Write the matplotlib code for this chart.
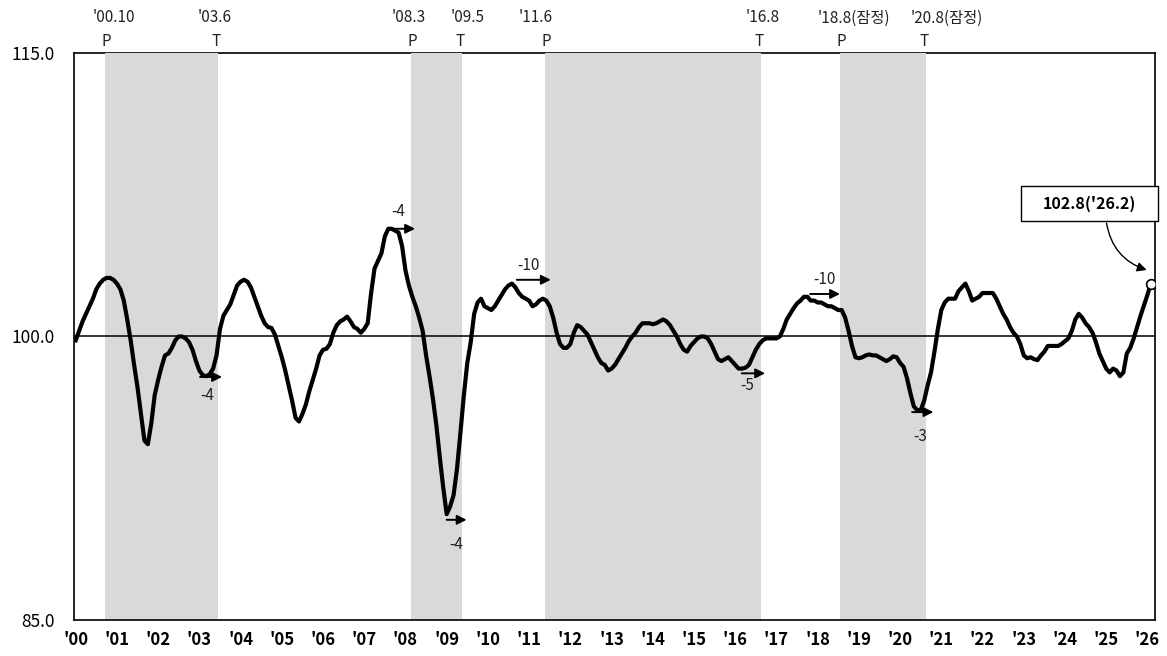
import matplotlib
matplotlib.use("Agg")
import matplotlib.pyplot as plt
from matplotlib.patches import Rectangle
import numpy as np

plt.rcParams["font.family"] = ["Noto Sans CJK KR", "DejaVu Sans"]

# 선행지수 순환변동치, 월별 ('00.1 ~ '26.2)
values = [
    99.8, 100.3, 100.8, 101.2, 101.6, 102.0, 102.5, 102.8, 103.0, 103.1, 103.1, 103.0,  # 2000
    102.8, 102.5, 101.9, 100.9, 99.8, 98.5, 97.3, 95.9, 94.5, 94.3, 95.4, 96.9,  # 2001
    97.7, 98.4, 99.0, 99.1, 99.4, 99.8, 100.0, 100.0, 99.9, 99.7, 99.3, 98.7,  # 2002
    98.2, 97.95, 97.9, 98.0, 98.3, 99.0, 100.4, 101.1, 101.4, 101.7, 102.2, 102.7,  # 2003
    102.9, 103.0, 102.9, 102.6, 102.1, 101.6, 101.1, 100.7, 100.5, 100.45, 100.1, 99.5,  # 2004
    98.9, 98.2, 97.4, 96.6, 95.7, 95.5, 95.9, 96.4, 97.1, 97.7, 98.3, 99.0,  # 2005
    99.3, 99.35, 99.6, 100.2, 100.6, 100.8, 100.9, 101.05, 100.8, 100.5, 100.4, 100.2,  # 2006
    100.4, 100.7, 102.3, 103.6, 104.0, 104.4, 105.3, 105.7, 105.7, 105.6, 105.5, 104.8,  # 2007
    103.5, 102.7, 102.1, 101.6, 101.0, 100.3, 99.0, 97.9, 96.7, 95.3, 93.6, 92.0,  # 2008
    90.6, 91.0, 91.6, 93.0, 94.9, 96.9, 98.6, 99.7, 101.2, 101.8, 102.0, 101.6,  # 2009
    101.5, 101.4, 101.6, 101.9, 102.2, 102.5, 102.7, 102.8, 102.6, 102.3, 102.1, 102.0,  # 2010
    101.9, 101.6, 101.7, 101.9, 102.0, 101.9, 101.6, 101.0, 100.2, 99.6, 99.4, 99.4,  # 2011
    99.6, 100.2, 100.6, 100.5, 100.3, 100.1, 99.7, 99.3, 98.9, 98.6, 98.5, 98.2,  # 2012
    98.3, 98.5, 98.8, 99.1, 99.4, 99.75, 100.0, 100.2, 100.5, 100.7, 100.7, 100.7,  # 2013
    100.65, 100.7, 100.8, 100.9, 100.8, 100.6, 100.3, 100.0, 99.6, 99.3, 99.2, 99.5,  # 2014
    99.7, 99.9, 100.0, 100.0, 99.9, 99.6, 99.2, 98.8, 98.7, 98.8, 98.9, 98.7,  # 2015
    98.5, 98.3, 98.3, 98.35, 98.5, 98.9, 99.3, 99.6, 99.8, 99.9, 99.9, 99.9,  # 2016
    99.9, 100.0, 100.4, 100.9, 101.2, 101.5, 101.75, 101.9, 102.1, 102.1, 101.9, 101.9,  # 2017
    101.8, 101.8, 101.7, 101.6, 101.6, 101.5, 101.4, 101.4, 101.0, 100.3, 99.5, 98.9,  # 2018
    98.85, 98.9, 99.0, 99.05, 99.0, 99.0, 98.9, 98.8, 98.7, 98.8, 98.95, 98.9,  # 2019
    98.6, 98.4, 97.8, 97.0, 96.3, 96.1, 96.1, 96.6, 97.4, 98.1, 99.2, 100.4,  # 2020
    101.4, 101.8, 102.0, 102.0, 102.0, 102.4, 102.6, 102.8, 102.4, 101.9, 102.0, 102.1,  # 2021
    102.3, 102.3, 102.3, 102.3, 102.0, 101.6, 101.2, 100.9, 100.5, 100.2, 100.0, 99.6,  # 2022
    99.0, 98.85, 98.9, 98.8, 98.75, 99.0, 99.2, 99.5, 99.5, 99.5, 99.5, 99.6,  # 2023
    99.75, 99.9, 100.3, 100.9, 101.2, 101.0, 100.7, 100.5, 100.2, 99.7, 99.1, 98.7,  # 2024
    98.3, 98.1, 98.3, 98.2, 97.9, 98.1, 99.1, 99.4, 99.9, 100.5, 101.1, 101.65,  # 2025
    102.2, 102.8,  # 2026
]

year_labels = ["'%02d" % y for y in range(0, 27)]

# 기준순환일 (월 인덱스: '00.1 = 0)
turn_labels = ["'00.10", "'03.6", "'08.3", "'09.5", "'11.6", "'16.8", "'18.8(잠정)", "'20.8(잠정)"]
turn_types = ["P", "T", "P", "T", "P", "T", "P", "T"]
turn_months = [9, 41, 98, 112, 137, 199, 223, 247]
label_shift = [2, -0.5, -1, 2, -3, 1, 3.5, 6.5]

# 선행 시차 화살표
lead_text = ["-4", "-4", "-4", "-10", "-5", "-10", "-3"]
lead_start = [36.2, 91.5, 108.0, 128.4, 193.9, 213.8, 243.5]
lead_end = [42.6, 98.8, 113.8, 138.3, 200.7, 222.5, 249.7]
lead_y = [97.86, 105.7, 90.3, 103.0, 98.05, 102.25, 96.0]
lead_text_x = [38.3, 93.9, 110.7, 131.8, 195.5, 218.1, 245.8]
lead_text_y = [96.9, 106.6, 89.0, 103.75, 97.4, 103.0, 94.7]

last_label = "102.8('26.2)"

x = np.arange(len(values))

fig = plt.figure(figsize=(11.67, 6.56), dpi=100)
ax = fig.add_axes([0.0634, 0.0549, 0.9263, 0.8643])

# 수축기 음영
for i in range(0, len(turn_months), 2):
    ax.axvspan(turn_months[i] - 0.5, turn_months[i + 1] + 0.5, color="#d9d9d9", lw=0, zorder=3)

ax.axhline(100, color="black", lw=1.1, zorder=4)
ax.plot(x, values, color="black", lw=3, solid_joinstyle="round", zorder=5)
ax.plot(x[-1], values[-1], "o", mfc="white", mec="black", ms=7, mew=1.2, zorder=6)

for lab, t, m, s in zip(turn_labels, turn_types, turn_months, label_shift):
    ax.text(m + s, 1.062, lab, transform=ax.get_xaxis_transform(), ha="center", va="center",
            fontsize=11, color="#222222")
    ax.text(m, 1.02, t, transform=ax.get_xaxis_transform(), ha="center", va="center",
            fontsize=11, color="#222222")

for i in range(len(lead_text)):
    ax.annotate("", xy=(lead_end[i], lead_y[i]), xytext=(lead_start[i], lead_y[i]),
                arrowprops=dict(arrowstyle="-|>", color="black", lw=1.4, mutation_scale=14,
                                shrinkA=0, shrinkB=0), zorder=6)
    ax.text(lead_text_x[i], lead_text_y[i], lead_text[i], ha="center", va="center",
            fontsize=11, color="#222222", zorder=6)

# 최근값 박스
ax.add_patch(Rectangle((275.2, 106.1), 39.8, 1.86, fc="white", ec="black", lw=1,
                       clip_on=False, zorder=7))
ax.text(295.1, 107.03, last_label, ha="center", va="center", fontsize=11.5,
        fontweight="bold", zorder=8)
ax.annotate("", xy=(311.8, 103.52), xytext=(300.1, 106.0),
            arrowprops=dict(arrowstyle="-|>", color="black", lw=1, mutation_scale=14,
                            connectionstyle="arc3,rad=0.3", shrinkA=0, shrinkB=0), zorder=7)

ax.set_xlim(-0.5, 314.2)
ax.set_ylim(85, 115)
ax.set_yticks([85, 100, 115])
ax.set_yticklabels(["85.0", "100.0", "115.0"], fontsize=12.5)
ax.set_xticks(np.arange(0, len(values), 12))
ax.set_xticklabels(year_labels, fontsize=12, fontweight="bold")
ax.tick_params(axis="y", length=0, pad=14)
ax.tick_params(axis="x", length=0, pad=8)

for side in ["left", "right", "top", "bottom"]:
    ax.spines[side].set_linewidth(1.2)
ax.spines["bottom"].set_zorder(4)

fig.savefig("out.png", dpi=100)
